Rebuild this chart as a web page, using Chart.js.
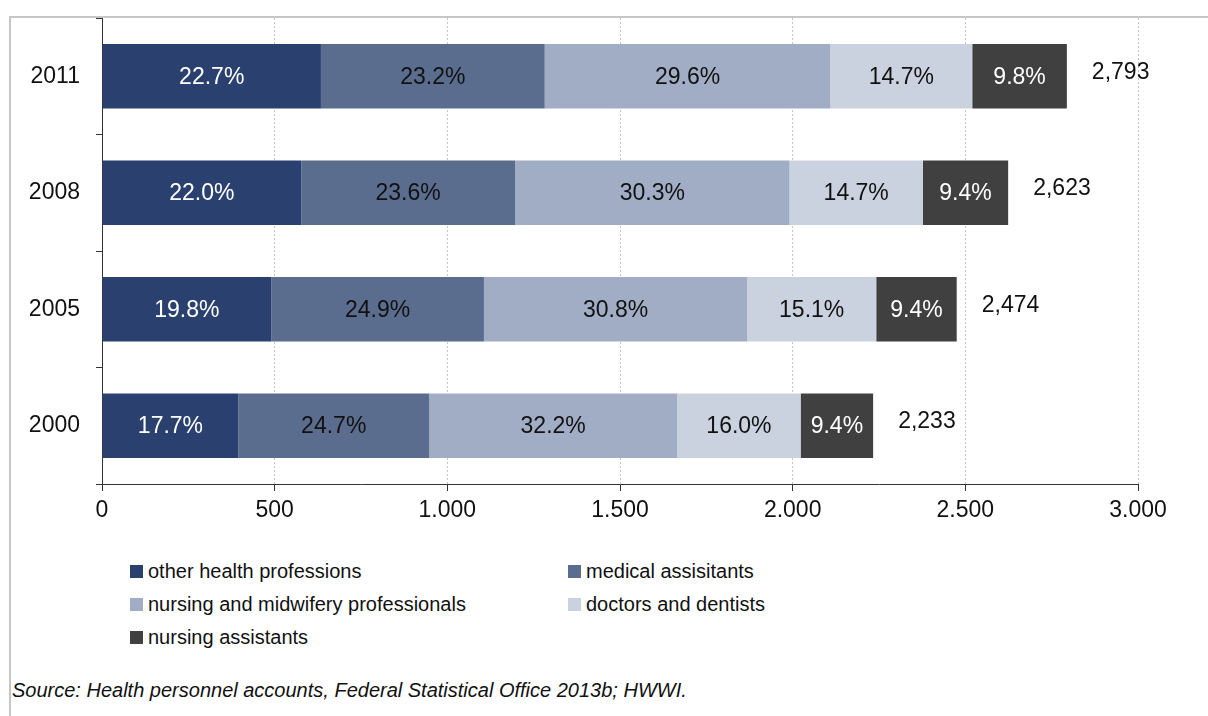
<!DOCTYPE html>
<html>
<head>
<meta charset="utf-8">
<script src="https://cdn.jsdelivr.net/npm/chart.js@4.4.1/dist/chart.umd.min.js"></script>
<style>
    body { margin: 0; background: #fff; width: 1208px; height: 716px; overflow: hidden; position: relative;
           font-family: "Liberation Sans Narrow", "Liberation Sans", Arial, sans-serif; color: #111; }
    #frame { position: absolute; left: 9px; top: 16px; width: 1300px; height: 800px;
             border-left: 2px solid #c6c6c6; border-top: 2px solid #c6c6c6; }
    #wrap { position: absolute; left: 0; top: 0; width: 1208px; height: 540px; }
    #legend { position: absolute; left: 130px; top: 555px; display: grid;
              grid-template-columns: 438px auto; grid-auto-rows: 33px; font-size: 20px; }
    #legend .item { display: flex; align-items: center; }
    #legend .box { width: 13px; height: 13px; margin-right: 5px; }
    #source { position: absolute; left: 12px; top: 679px; font-size: 20px; font-style: italic; }
</style>
</head>
<body>
<div id="frame"></div>
<div id="wrap"><canvas id="grafico" width="1208" height="540"></canvas></div>
<div id="legend"></div>
<div id="source">Source: Health personnel accounts, Federal Statistical Office 2013b; HWWI.</div>
<script>
// Dados do gráfico (em milhares)
const years = ['2011', '2008', '2005', '2000'];
const seriesNames = ['other health professions', 'medical assisitants', 'nursing and midwifery professionals',
                     'doctors and dentists', 'nursing assistants'];
const seriesColors = ['#2A4170', '#5B6D8E', '#A0ADC4', '#CBD2DF', '#404040'];
const labelColors = ['#ffffff', '#111111', '#111111', '#111111', '#ffffff'];

const otherHealth = [634, 577, 490, 395];
const medicalAssist = [648, 619, 616, 552];
const nursingMidwifery = [827, 795, 762, 719];
const doctorsDentists = [411, 386, 374, 357];
const nursingAssist = [274, 247, 233, 210];

const pctOther = ['22.7%', '22.0%', '19.8%', '17.7%'];
const pctMedical = ['23.2%', '23.6%', '24.9%', '24.7%'];
const pctNursing = ['29.6%', '30.3%', '30.8%', '32.2%'];
const pctDoctors = ['14.7%', '14.7%', '15.1%', '16.0%'];
const pctAssist = ['9.8%', '9.4%', '9.4%', '9.4%'];

const totals = ['2,793', '2,623', '2,474', '2,233'];
const xTickLabels = ['0', '500', '1.000', '1.500', '2.000', '2.500', '3.000'];

const seriesData = [otherHealth, medicalAssist, nursingMidwifery, doctorsDentists, nursingAssist];
const seriesPct = [pctOther, pctMedical, pctNursing, pctDoctors, pctAssist];

const FONT = '"Liberation Sans Narrow", "Liberation Sans", Arial, sans-serif';

// Plugin para escrever percentuais e totais
const barLabels = {
    id: 'barLabels',
    afterDatasetsDraw(chart) {
        const ctx = chart.ctx;
        ctx.save();
        ctx.font = '23px ' + FONT;
        ctx.textBaseline = 'middle';
        chart.data.datasets.forEach(function(ds, i) {
            const meta = chart.getDatasetMeta(i);
            meta.data.forEach(function(bar, j) {
                ctx.fillStyle = labelColors[i];
                ctx.textAlign = 'center';
                ctx.fillText(seriesPct[i][j], (bar.x + bar.base) / 2, bar.y + 1);
                if (i === chart.data.datasets.length - 1) {
                    ctx.fillStyle = '#111';
                    ctx.textAlign = 'left';
                    ctx.fillText(totals[j], bar.x + 25, bar.y - 4);
                }
            });
        });
        ctx.restore();
    }
};

const datasets = seriesNames.map(function(name, i) {
    return {
        label: name,
        data: seriesData[i],
        backgroundColor: seriesColors[i],
        borderWidth: 0,
        barPercentage: 0.555,
        categoryPercentage: 1
    };
});

new Chart(document.getElementById('grafico').getContext('2d'), {
    type: 'bar',
    data: { labels: years, datasets: datasets },
    options: {
        indexAxis: 'y',
        responsive: false,
        animation: false,
        devicePixelRatio: 1,
        layout: { padding: { top: 18, right: 70, left: 0, bottom: 0 } },
        plugins: { legend: { display: false }, tooltip: { enabled: false } },
        scales: {
            x: {
                stacked: true,
                min: 0,
                max: 3000,
                afterFit: function(scale) { scale.height = 56; },
                ticks: {
                    stepSize: 500,
                    color: '#111',
                    padding: 6,
                    font: { family: FONT, size: 23 },
                    callback: function(value, index) { return xTickLabels[index]; }
                },
                grid: { color: '#c4c4c4', tickColor: '#333', tickLength: 7, tickBorderDash: [] },
                border: { color: '#333', width: 1, dash: [2, 2] }
            },
            y: {
                stacked: true,
                afterFit: function(scale) {
                    scale.width = 102;
                    scale.paddingTop = 0;
                    scale.paddingBottom = 0;
                },
                ticks: { color: '#111', padding: 16, font: { family: FONT, size: 23 } },
                grid: { drawOnChartArea: false, tickColor: '#333', color: '#333', tickLength: 6, offset: true },
                border: { color: '#333', width: 1 }
            }
        }
    },
    plugins: [barLabels]
});

// Legenda em duas colunas
const legend = document.getElementById('legend');
seriesNames.forEach(function(name, i) {
    const item = document.createElement('div');
    item.className = 'item';
    item.innerHTML = '<span class="box" style="background:' + seriesColors[i] + '"></span>' + name;
    legend.appendChild(item);
});
</script>
</body>
</html>
